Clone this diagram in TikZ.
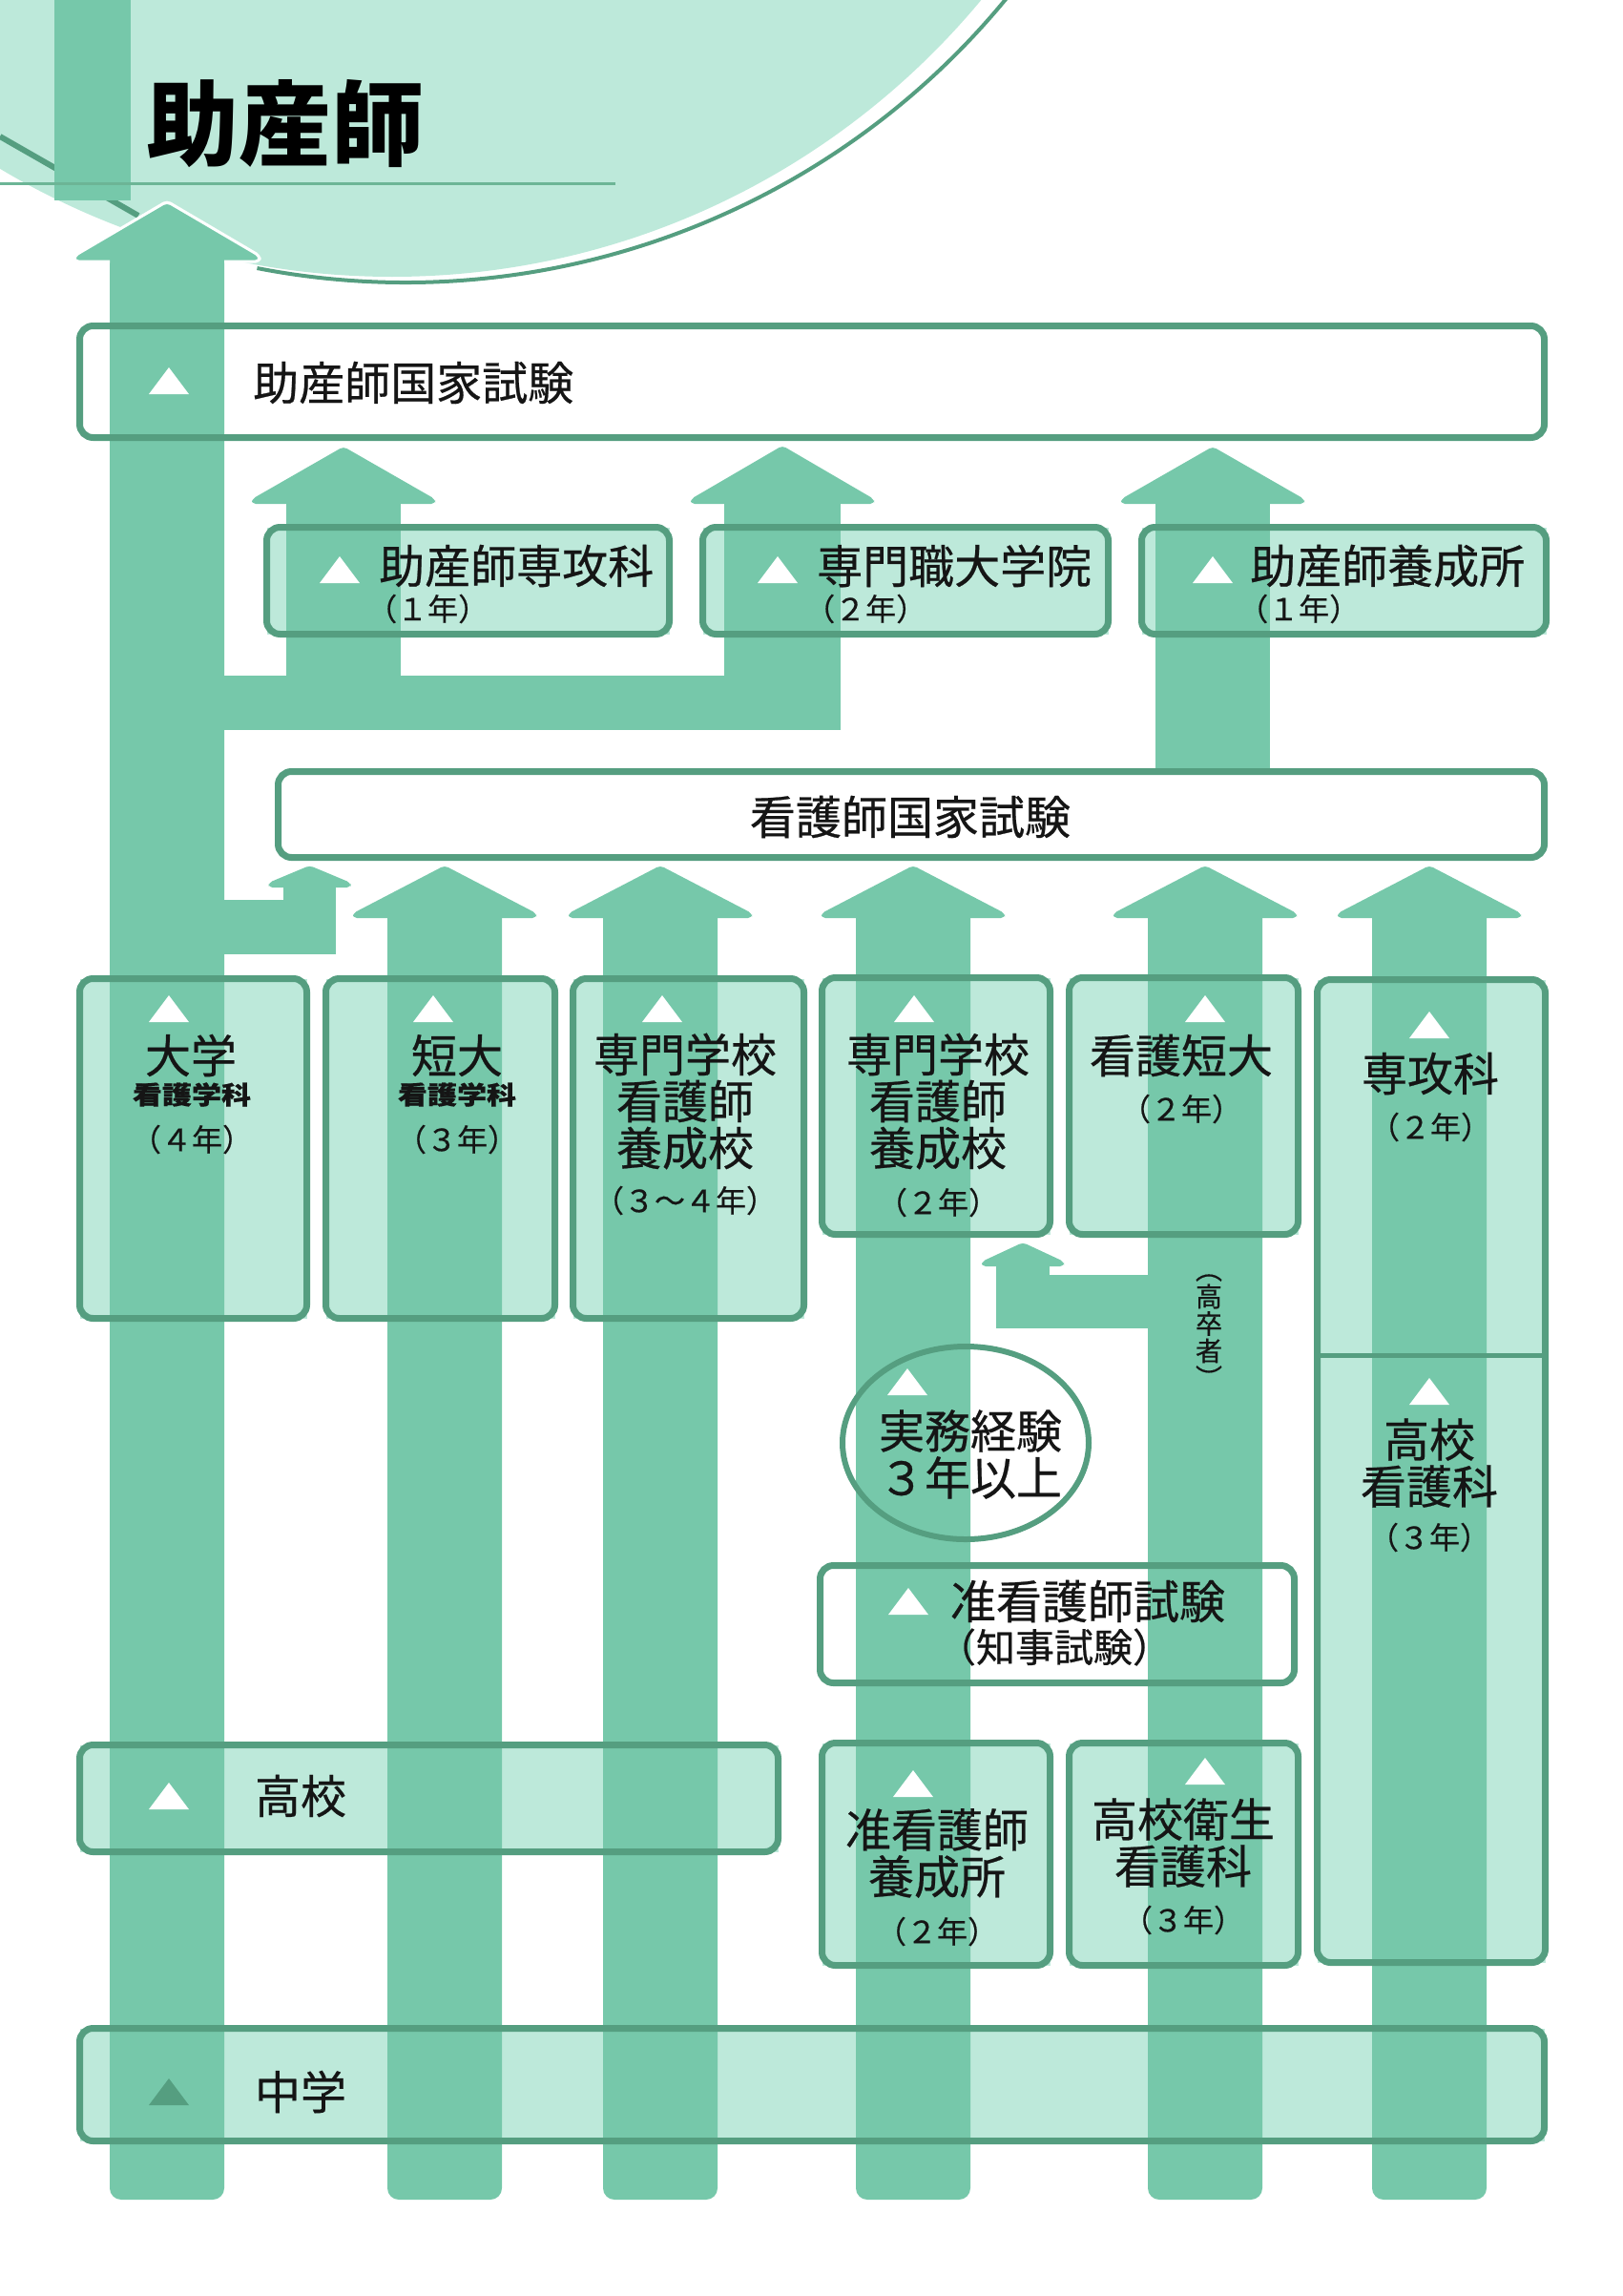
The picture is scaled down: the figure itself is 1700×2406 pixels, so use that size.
\documentclass[tikz,border=0pt]{standalone}
\usepackage{fontspec}
\setmainfont{Noto Sans CJK JP}[FakeBold=0.5]
\newfontfamily\titlefont{Noto Sans CJK JP}
\usetikzlibrary{shapes.geometric}
\definecolor{colm}{HTML}{76C8AA}
\definecolor{lite}{HTML}{BDE9DA}
\definecolor{bord}{HTML}{559E80}
\definecolor{uline}{HTML}{6CB596}
\definecolor{ink}{HTML}{151515}
\pgfdeclarelayer{back}
\pgfdeclarelayer{front}
\pgfsetlayers{back,main,front}
% arrow head: center x, tip y, base y, half width
\newcommand\headup[4]{\fill[colm, rounded corners=4] ({#1-#4},#3) -- ({#1-#4},{#3-5}) -- (#1,#2) -- ({#1+#4},{#3-5}) -- ({#1+#4},#3) -- cycle;}
% shaft with rounded bottom: center x, half width, top y, bottom y
\newcommand\shaftr[4]{\fill[colm, rounded corners=12] ({#1-#2},#3) rectangle ({#1+#2},#4);}
% plain shaft
\newcommand\shafts[4]{\fill[colm] ({#1-#2},#3) rectangle ({#1+#2},#4);}
\begin{document}
\begin{tikzpicture}[x=1pt,y=-1pt,
  box/.style={inner sep=0, outer sep=0, draw=none},
  bline/.style={draw=bord, line width=7, rounded corners=14},
  lbl/.style={inner sep=0, text=ink, align=center, font=\fontsize{48}{49}\selectfont},
  yr/.style={inner sep=0, text=ink, align=center, font=\fontsize{32}{34}\selectfont},
  sm/.style={inner sep=0, text=ink, align=center, font=\fontsize{31}{32}\selectfont},
  tri/.pic={\fill[white] (-21,14) -- (21,14) -- (0,-14) -- cycle;},
  trid/.pic={\fill[bord] (-21,14) -- (21,14) -- (0,-14) -- cycle;}]
\useasboundingbox (0,0) rectangle (1700,2406);

% ---------------- background layer ----------------
\begin{pgfonlayer}{back}
  \begin{scope}
    \clip (0,0) rectangle (1700,2406);
    \fill[lite] (411,-512) circle [radius=802];
    \draw[bord, line width=4] (425,-519) ++(101:815) arc[start angle=101, end angle=36, radius=815];
  \end{scope}
  \draw[bord, line width=6] (0,143) -- (145,226);
  \fill[colm] (57,0) rectangle (137,210);
  \draw[uline, line width=3] (0,192) -- (645,192);

  % box fills
  \node[box, fill=white, minimum width=1535, minimum height=117] (jex) at (851,400) {};
  \node[box, fill=lite, minimum width=422, minimum height=112] (sub1) at (490.5,608.5) {};
  \node[box, fill=lite, minimum width=425, minimum height=112] (sub2) at (949,608.5) {};
  \node[box, fill=lite, minimum width=424, minimum height=112] (sub3) at (1408.5,608.5) {};
  \node[box, fill=white, minimum width=1327, minimum height=90] (kex) at (955,853.5) {};
  \node[box, fill=lite, minimum width=238, minimum height=356] (daigaku) at (202.5,1203.5) {};
  \node[box, fill=lite, minimum width=240, minimum height=356] (tandai) at (461.5,1203.5) {};
  \node[box, fill=lite, minimum width=242, minimum height=356] (senmonA) at (721.5,1203.5) {};
  \node[box, fill=lite, minimum width=239, minimum height=269] (senmonB) at (981,1159) {};
  \node[box, fill=lite, minimum width=240, minimum height=269] (kantan) at (1240.5,1159) {};
  \node[box, fill=lite, minimum width=239, minimum height=1030] (senko) at (1500,1541.5) {};
  \node[ellipse, inner sep=0, fill=white, minimum width=258, minimum height=202] (jitsumu) at (1012,1512) {};
  \node[box, fill=white, minimum width=497, minimum height=123] (junex) at (1108,1702) {};
  \node[box, fill=lite, minimum width=239, minimum height=233] (junyo) at (981,1943) {};
  \node[box, fill=lite, minimum width=240, minimum height=233] (eisei) at (1240.5,1943) {};
  \node[box, fill=lite, minimum width=732, minimum height=112] (koko) at (449.5,1884.5) {};
  \node[box, fill=lite, minimum width=1535, minimum height=118] (chugaku) at (851,2184.5) {};
\end{pgfonlayer}

% ---------------- columns (main layer) ----------------
% column A to the midwife title
\shaftr{175}{60}{258}{2305}
\headup{175}{213}{273}{96}
\draw[white, line width=3, rounded corners=4, line join=round]
  (115,274) -- (78,274) -- (78,268) -- (175,211) -- (272,268) -- (272,274) -- (235,274);
% columns to the nurse exam
\foreach \c in {466,692,957,1263,1498} {%
  \shaftr{\c}{60}{947}{2305}
  \headup{\c}{907}{962}{96}
}
% from nurse exam to midwife school
\shafts{1271}{60}{513}{812}
\headup{1271}{468}{528}{96}
% from column A to the two schools
\fill[colm] (230,708) rectangle (881,765);
\shafts{360}{60}{513}{765}
\headup{360}{468}{528}{96}
\shafts{820}{61}{513}{765}
\headup{820}{467}{528}{96}
% small branch from column A to the nurse exam
\fill[colm] (230,943) rectangle (352,1000);
\shafts{324.5}{27.5}{925}{1000}
\headup{324.5}{907}{930}{43}
% small branch from column E to column D
\fill[colm] (1044,1336) rectangle (1210,1392);
\shafts{1072}{28}{1322}{1392}
\headup{1072}{1302}{1327}{43}

% ---------------- front layer ----------------
\begin{pgfonlayer}{front}
  \foreach \b in {jex,sub1,sub2,sub3,kex,daigaku,tandai,senmonA,senmonB,kantan,senko,junex,junyo,eisei,koko,chugaku}
    {\draw[bline] (\b.north west) rectangle (\b.south east);}
  \coordinate (dv) at (0,1420);
  \draw[bord, line width=5] (senko.west |- dv) -- (senko.east |- dv);
  \draw[bord, line width=6] (jitsumu.center) ellipse [x radius=129, y radius=101];

  % title
  \node[inner sep=0, text=black, font=\titlefont\bfseries\fontsize{97}{97}\selectfont] (title) at (299,130) {助産師};

  % midwife exam
  \pic at (177,399) {tri};
  \node[lbl, anchor=west] (tjex) at (265,401) {助産師国家試験};

  % three schools
  \pic at (356,597) {tri};
  \node[lbl, anchor=west] (tsub1) at (397,593) {助産師専攻科};
  \node[yr, anchor=west] (ysub1) at (384,638) {（１年）};
  \pic at (815,597) {tri};
  \node[lbl, anchor=west] (tsub2) at (856,593) {専門職大学院};
  \node[yr, anchor=west] (ysub2) at (843,638) {（２年）};
  \pic at (1271,597) {tri};
  \node[lbl, anchor=west] (tsub3) at (1310,593) {助産師養成所};
  \node[yr, anchor=west] (ysub3) at (1297,638) {（１年）};

  % nurse exam
  \node[lbl] (tkex) at (954,856) {看護師国家試験};

  % row of nursing schools
  \pic at (177,1057) {tri};
  \node[lbl] (tdai) at (200,1106) {大学};
  \node[sm, yscale=0.85] (tdai2) at (201,1147) {\bfseries 看護学科};
  \node[yr] (ydai) at (201,1194) {（４年）};

  \pic at (454,1057) {tri};
  \node[lbl] (ttan) at (479,1106) {短大};
  \node[sm, yscale=0.85] (ttan2) at (479,1147) {\bfseries 看護学科};
  \node[yr] (ytan) at (479,1194) {（３年）};

  \pic at (694,1057) {tri};
  \node[lbl] (tsenA) at (718,1154) {専門学校\\看護師\\養成校};
  \node[yr] (ysenA) at (718,1258) {（３～４年）};

  \pic at (958,1057) {tri};
  \node[lbl] (tsenB) at (983,1154) {専門学校\\看護師\\養成校};
  \node[yr] (ysenB) at (983,1260) {（２年）};

  \pic at (1263,1057) {tri};
  \node[lbl] (tkantan) at (1238,1106) {看護短大};
  \node[yr] (ykantan) at (1238,1162) {（２年）};

  \pic at (1498,1074) {tri};
  \node[lbl] (tsenko) at (1499,1125) {専攻科};
  \node[yr] (ysenko) at (1499,1181) {（２年）};

  \pic at (1498,1458) {tri};
  \node[lbl] (tkokan) at (1498,1533) {高校\\看護科};
  \node[yr] (ykokan) at (1498,1611) {（３年）};

  % vertical note
  \node[inner sep=0, text=ink, align=center, font=\fontsize{28}{28.5}\selectfont] (kosotsu) at (1267,1395) {︵\\高\\卒\\者\\︶};

  % practice experience
  \pic at (951,1448) {tri};
  \node[lbl] (tjitsu) at (1017,1524) {実務経験\\３年以上};

  % assistant nurse exam
  \pic at (952,1678) {tri};
  \node[lbl] (tjunex) at (1140,1678) {准看護師試験};
  \node[inner sep=0, text=ink, font=\fontsize{41}{42}\selectfont] (tjunex2) at (1105,1726) {（知事試験）};

  % bottom schools
  \pic at (957,1869) {tri};
  \node[lbl] (tjunyo) at (982,1942) {准看護師\\養成所};
  \node[yr] (yjunyo) at (982,2024) {（２年）};

  \pic at (1263,1856) {tri};
  \node[lbl] (teisei) at (1240,1931) {高校衛生\\看護科};
  \node[yr] (yeisei) at (1240,2012) {（３年）};

  \pic at (177,1882) {tri};
  \node[lbl] (tkoko) at (315,1882) {高校};

  \pic at (177,2192) {trid};
  \node[lbl] (tchu) at (315,2192) {中学};
\end{pgfonlayer}
\end{tikzpicture}
\end{document}
